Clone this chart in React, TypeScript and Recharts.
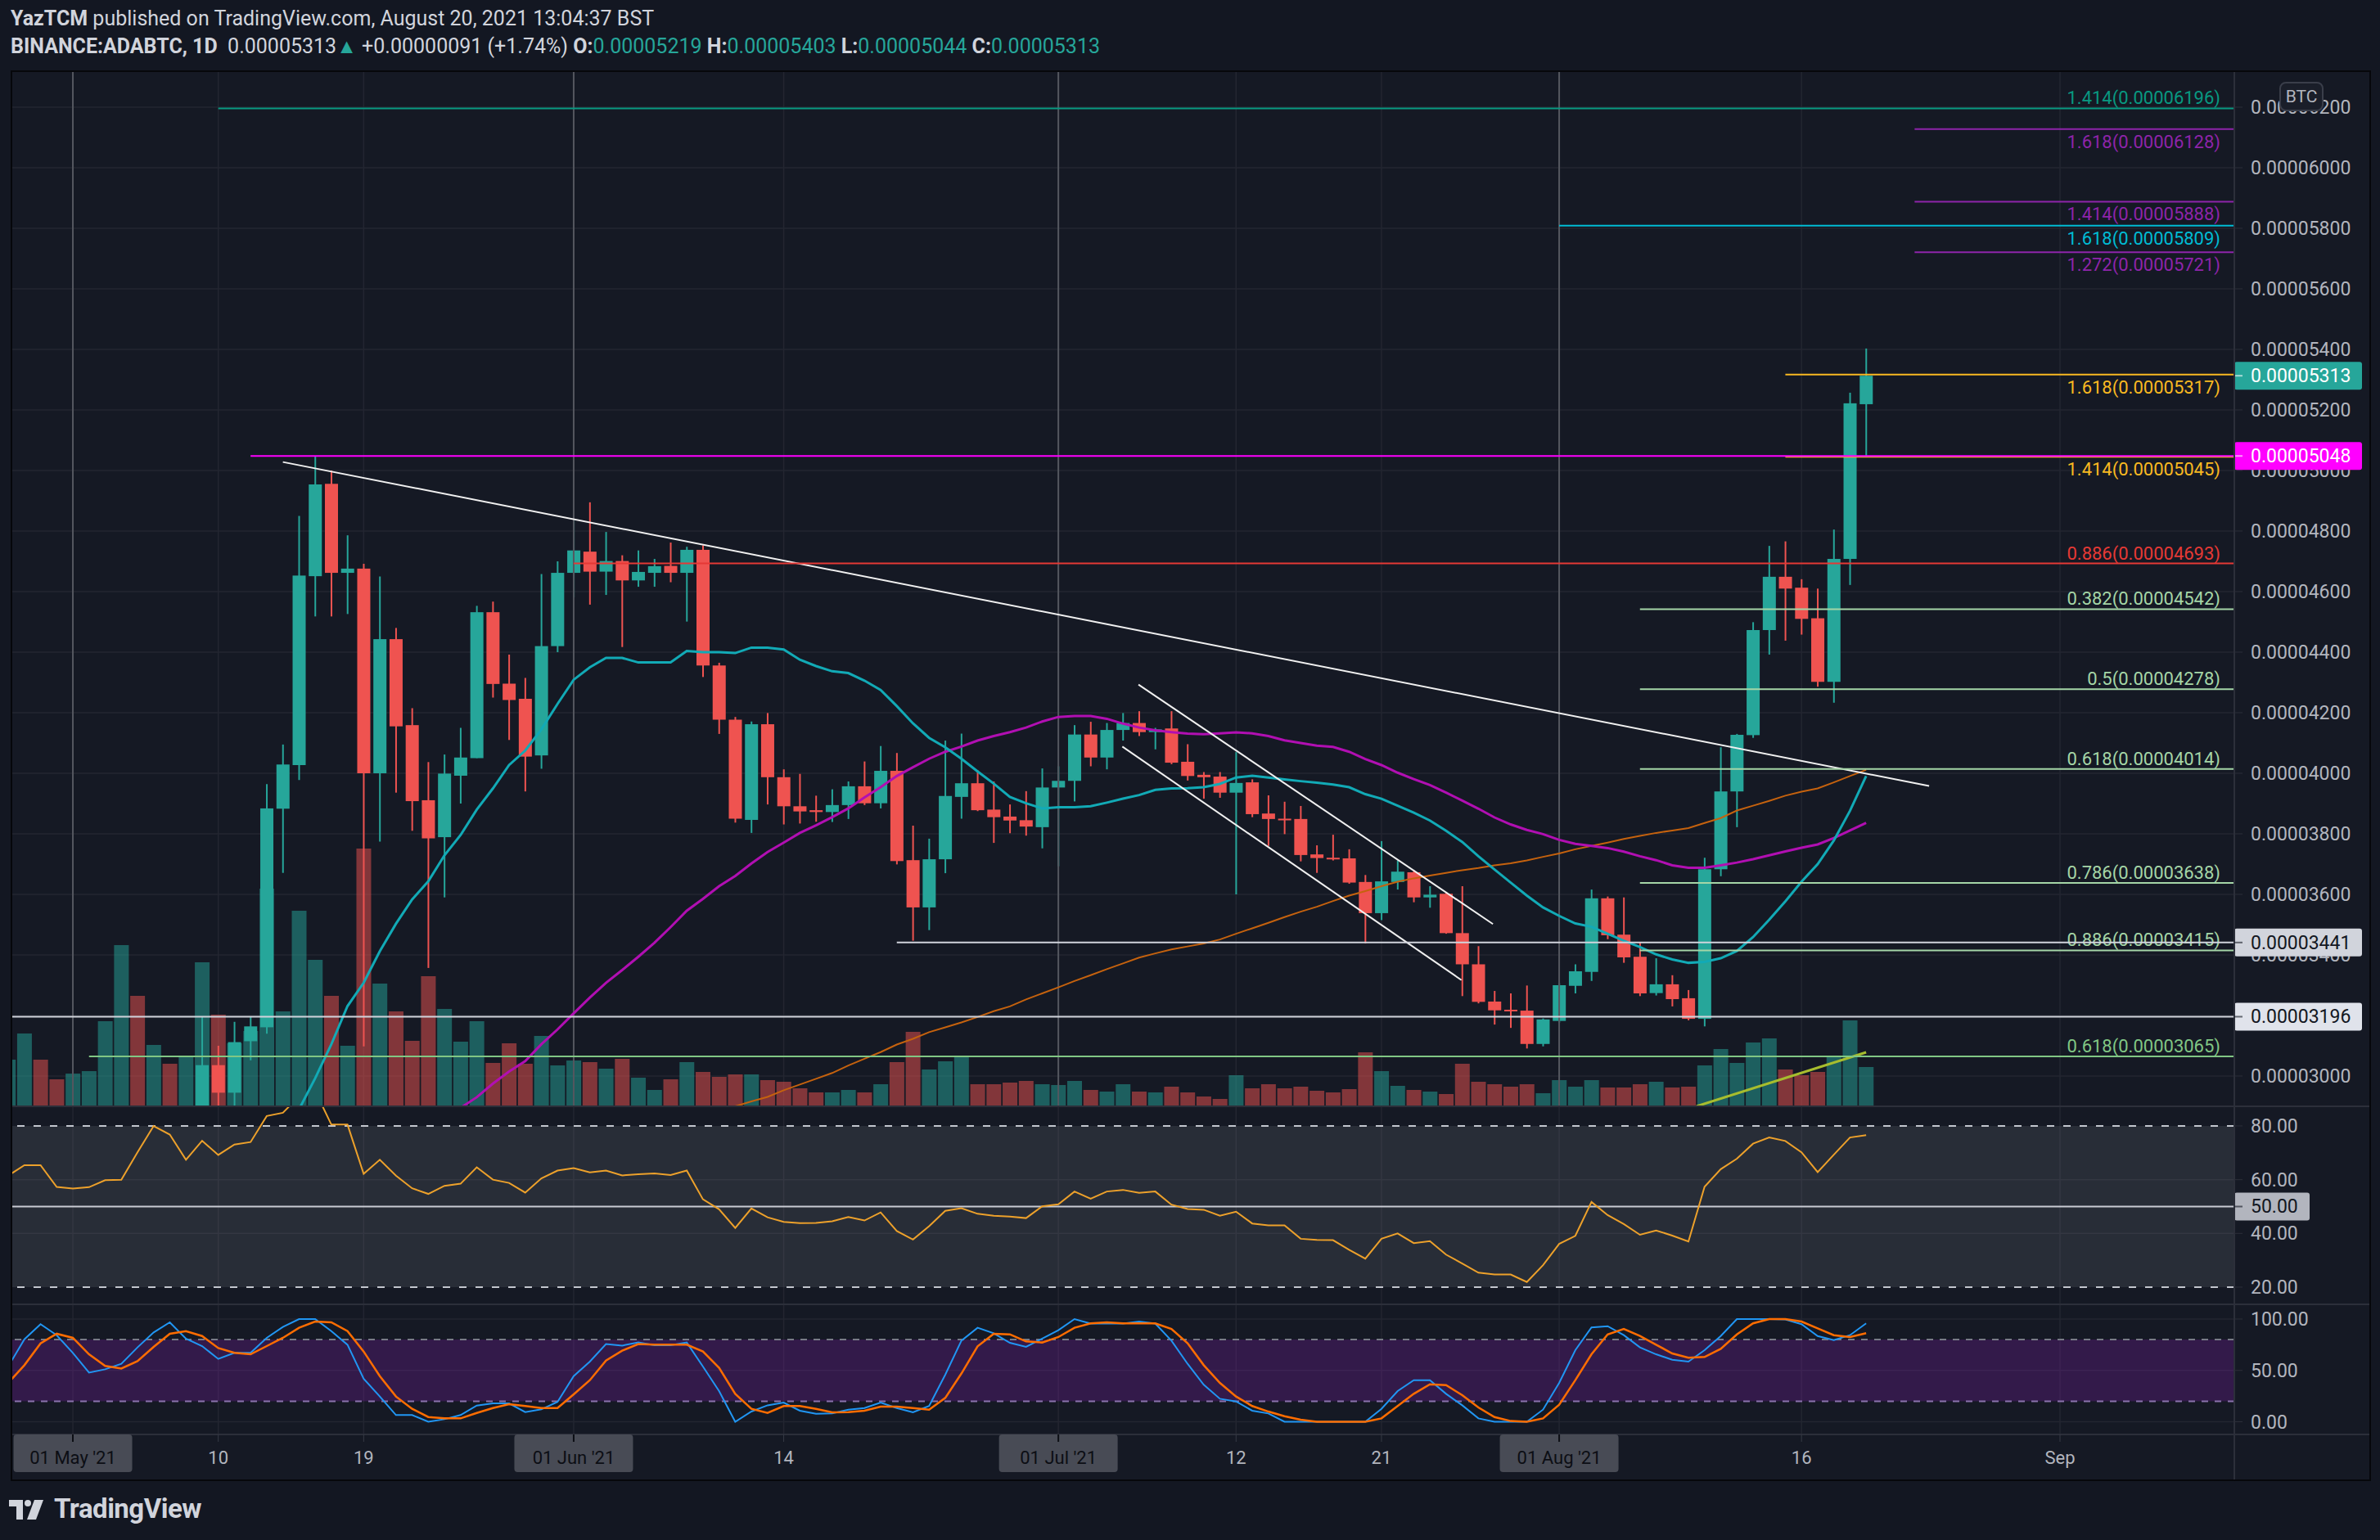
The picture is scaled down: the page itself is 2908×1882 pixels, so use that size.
import React from "react";
import {
  Bar,
  CartesianGrid,
  ComposedChart,
  Line,
  ReferenceArea,
  ReferenceLine,
  XAxis,
  YAxis,
} from "recharts";

const FONT = "Roboto, 'Liberation Sans', sans-serif";
const UP = "#26a69a";
const DOWN = "#ef5350";

// day 0 = 01 May 2021; the first bar is 27 Apr 2021 (day -4). Prices in satoshi.
const FIRST_DAY = -4;

const open = [
  2400, 2460, 2530, 2490, 2450, 2500, 2560, 2680, 2820, 2730, 2790, 2750,
  2840, 3036, 2945, 3115, 3161, 3883, 4027, 4651, 4956, 4662, 4676, 4000,
  4443, 4159, 3911, 3789, 3992, 4050, 4532, 4296, 4246, 4059, 4420, 4662,
  4732, 4666, 4701, 4637, 4662, 4685, 4662, 4738, 4356, 4177, 3846, 4162,
  3987, 3891, 3878, 3872, 3895, 3957, 3901, 4008, 3713, 3557, 3716, 3922,
  3967, 3880, 3857, 3845, 3822, 3953, 3975, 4128, 4052, 4143, 4166, 4136,
  4148, 4038, 3995, 3989, 3936, 3970, 3867, 3850, 3849, 3732, 3721, 3719,
  3641, 3538, 3641, 3673, 3590, 3602, 3472, 3369, 3246, 3219, 3216, 3106,
  3182, 3298, 3344, 3587, 3467, 3394, 3274, 3303, 3257, 3189, 3683, 3940,
  4126, 4473, 4649, 4613, 4512, 4302, 4708, 5219,
];
const high = [
  2480, 2560, 2570, 2520, 2530, 2590, 2700, 2870, 2860, 2820, 2830, 2880,
  3197, 3100, 3179, 3196, 3964, 4095, 4850, 5046, 5000, 4786, 4692, 4650,
  4480, 4215, 4037, 4062, 4150, 4553, 4567, 4392, 4315, 4658, 4700, 4836,
  4895, 4797, 4720, 4736, 4708, 4762, 4748, 4753, 4365, 4186, 4171, 4199,
  4013, 3998, 3926, 3947, 3973, 4039, 4090, 4067, 3827, 3784, 4108, 4131,
  4010, 3973, 3897, 3941, 4016, 4023, 4159, 4170, 4166, 4199, 4205, 4150,
  4205, 4096, 4004, 4004, 4070, 3980, 3927, 3906, 3892, 3762, 3797, 3749,
  3664, 3776, 3712, 3680, 3627, 3606, 3627, 3429, 3281, 3273, 3299, 3190,
  3307, 3369, 3616, 3593, 3590, 3441, 3389, 3333, 3284, 3721, 4086, 4130,
  4499, 4751, 4766, 4641, 4610, 4805, 5257, 5403,
];
const low = [
  2380, 2440, 2460, 2420, 2430, 2480, 2540, 2650, 2700, 2700, 2720, 2730,
  2810, 2890, 2890, 3052, 3140, 3671, 3978, 4518, 4518, 4526, 3098, 3774,
  3936, 3810, 3357, 3590, 3900, 4050, 4250, 4110, 3940, 4015, 4400, 4581,
  4557, 4589, 4417, 4616, 4616, 4631, 4501, 4318, 4130, 3837, 3803, 3897,
  3831, 3834, 3840, 3839, 3849, 3895, 3884, 3699, 3447, 3482, 3670, 3850,
  3875, 3770, 3802, 3794, 3752, 3693, 3907, 4023, 4013, 4108, 4123, 4079,
  4030, 3976, 3916, 3919, 3600, 3855, 3760, 3799, 3709, 3671, 3712, 3635,
  3438, 3515, 3616, 3574, 3556, 3470, 3264, 3240, 3170, 3159, 3091, 3098,
  3176, 3273, 3314, 3452, 3374, 3264, 3266, 3230, 3184, 3164, 3660, 3822,
  4117, 4392, 4438, 4458, 4286, 4233, 4622, 5044,
];
const close = [
  2460, 2530, 2490, 2450, 2500, 2560, 2680, 2820, 2730, 2790, 2750, 2840,
  3036, 2945, 3112, 3164, 3884, 4029, 4653, 4954, 4662, 4676, 4000, 4443,
  4155, 3908, 3785, 3999, 4052, 4532, 4295, 4242, 4055, 4420, 4662, 4736,
  4666, 4701, 4637, 4665, 4684, 4662, 4738, 4356, 4177, 3850, 4162, 3987,
  3891, 3874, 3872, 3895, 3957, 3901, 4008, 3710, 3557, 3716, 3925, 3967,
  3878, 3855, 3844, 3824, 3953, 3975, 4128, 4052, 4143, 4166, 4136, 4145,
  4035, 3991, 3987, 3936, 3968, 3865, 3849, 3847, 3730, 3720, 3717, 3639,
  3538, 3643, 3675, 3590, 3599, 3472, 3369, 3245, 3217, 3214, 3106, 3187,
  3300, 3346, 3587, 3465, 3392, 3273, 3303, 3254, 3189, 3683, 3940, 4127,
  4473, 4649, 4610, 4510, 4302, 4708, 5222, 5313,
];
const volume = [
  57, 89, 57, 33, 40, 43, 104, 197, 135, 75, 52, 60,
  176, 112, 77, 92, 266, 116, 239, 179, 135, 74, 315, 150,
  116, 80, 159, 119, 79, 104, 53, 77, 52, 86, 50, 56,
  54, 46, 58, 35, 20, 33, 54, 42, 36, 39, 39, 32,
  30, 22, 17, 17, 20, 17, 27, 54, 91, 45, 55, 60,
  27, 27, 29, 31, 27, 26, 31, 20, 18, 27, 18, 17,
  24, 17, 12, 9, 38, 22, 27, 22, 24, 19, 17, 21,
  66, 43, 25, 20, 18, 15, 52, 30, 27, 24, 27, 16,
  32, 24, 32, 23, 23, 27, 30, 23, 24, 50, 70, 53,
  78, 83, 45, 38, 42, 61, 105, 48,
];
const ema20 = [
  ...Array(14).fill(null),
  2630, 2680, 2740, 2810, 2890, 2993, 3105, 3231, 3308, 3412,
  3503, 3583, 3643, 3729, 3796, 3880, 3950, 4027, 4075, 4145, 4229, 4309,
  4350, 4381, 4381, 4366, 4366, 4366, 4404, 4400, 4400, 4397, 4415, 4415,
  4409, 4375, 4354, 4337, 4331, 4306, 4275, 4222, 4165, 4117, 4086, 4048,
  4006, 3966, 3922, 3901, 3884, 3888, 3888, 3891, 3903, 3916, 3928, 3945,
  3950, 3951, 3954, 3965, 3986, 3992, 3986, 3980, 3974, 3969, 3963, 3954,
  3931, 3916, 3893, 3870, 3844, 3810, 3773, 3726, 3682, 3639, 3596, 3557,
  3529, 3504, 3493, 3470, 3447, 3426, 3402, 3385, 3374, 3377, 3389, 3413,
  3459, 3516, 3577, 3642, 3700, 3778, 3876, 3991,
];
const ema50 = [
  ...Array(24).fill(null),
  2790, 2815, 2845, 2870, 2895, 2930, 2975, 3015, 3049, 3105, 3154, 3207,
  3259, 3308, 3350, 3394, 3440, 3492, 3546, 3585, 3627, 3661, 3702, 3740,
  3771, 3803, 3828, 3855, 3884, 3920, 3954, 3991, 4020, 4048, 4071, 4088,
  4108, 4123, 4136, 4151, 4171, 4186, 4189, 4189, 4180, 4164, 4151, 4142,
  4136, 4131, 4129, 4132, 4135, 4132, 4123, 4109, 4100, 4091, 4087, 4071,
  4047, 4027, 4002, 3981, 3961, 3936, 3910, 3883, 3854, 3831, 3813, 3799,
  3780, 3767, 3760, 3753, 3741, 3726, 3713, 3696, 3688, 3688, 3696, 3705,
  3716, 3729, 3742, 3754, 3765, 3786, 3811, 3836,
];
const ema200 = [
  ...Array(42).fill(null),
  2855, 2870, 2885, 2900, 2916, 2931,
  2953, 2972, 2991, 3010, 3035, 3057, 3079, 3104, 3123, 3145, 3161, 3177,
  3195, 3214, 3230, 3253, 3273, 3293, 3314, 3333, 3353, 3372, 3391, 3405,
  3418, 3428, 3438, 3451, 3470, 3488, 3506, 3525, 3543, 3559, 3578, 3596,
  3611, 3627, 3642, 3653, 3662, 3671, 3680, 3687, 3696, 3703, 3712, 3724,
  3735, 3749, 3760, 3771, 3783, 3793, 3803, 3811, 3819, 3836, 3852, 3877,
  3893, 3909, 3926, 3939, 3950, 3970, 3991, 4011,
];
const rsi = [
  61.5, 65.4, 65.4, 57.3, 56.7, 57.2, 59.8, 60.0, 70.2, 80.0, 76.8, 67.4,
  74.5, 69.2, 73.1, 74.0, 83.7, 84.9, 91.0, 93.0, 80.5, 80.5, 62.2, 67.4,
  61.5, 56.8, 54.7, 57.7, 58.5, 64.6, 60.0, 58.8, 55.2, 60.5, 63.4, 64.3,
  62.7, 63.4, 61.6, 62.0, 62.3, 61.7, 63.4, 52.7, 49.0, 42.0, 49.3, 46.0,
  44.3, 43.8, 43.9, 44.5, 46.1, 44.8, 47.8, 40.9, 37.7, 42.7, 48.4, 49.4,
  47.3, 46.6, 46.3, 45.7, 50.1, 50.8, 55.6, 52.9, 55.6, 56.2, 55.1, 55.6,
  50.7, 49.1, 48.8, 46.6, 48.1, 43.7, 43.0, 43.0, 38.0, 37.6, 37.5, 33.9,
  30.6, 38.0, 40.0, 36.4, 37.1, 32.1, 28.8, 25.4, 24.7, 24.7, 21.9, 28.2,
  36.1, 39.1, 51.7, 46.8, 43.5, 39.5, 41.1, 39.2, 37.0, 57.4, 63.9, 67.8,
  73.4, 75.7, 74.4, 70.2, 62.8, 69.3, 75.7, 76.6,
];
const stochK = [
  53.8, 80.3, 95.0, 84.3, 67.1, 47.9, 51.1, 56.4, 72.4, 87.0, 96.8, 80.9,
  73.7, 61.2, 67.1, 67.1, 81.7, 92.3, 100, 100, 88.3, 75.0, 41.8, 24.6,
  6.5, 6.5, 0, 2.5, 6.5, 15.8, 17.9, 17.9, 9.4, 12.1, 19.3, 44.5,
  58.6, 75.6, 74.2, 77.2, 74.5, 74.5, 77.2, 53.8, 29.9, 0, 10.0, 16.0,
  18.7, 10.8, 7.8, 8.1, 11.8, 13.4, 18.7, 13.4, 9.2, 15.3, 45.8, 79.0,
  91.5, 86.2, 76.9, 72.9, 80.9, 89.1, 100, 95.6, 95.6, 95.6, 97.6, 95.6,
  79.0, 56.4, 36.0, 22.4, 19.8, 10.8, 8.1, 0, 0, 0, 0, 0,
  0, 12.6, 29.9, 40.5, 40.5, 27.2, 16.0, 3.3, 0, 0, 0, 11.8,
  37.8, 69.7, 91.8, 93.1, 84.3, 72.4, 65.7, 60.4, 58.6, 69.7, 83.5, 100,
  100, 100, 99.5, 95.0, 83.5, 79.6, 84.3, 95.8,
];
const stochD = [
  37.8, 55.1, 76.3, 85.7, 81.7, 65.7, 54.3, 51.9, 59.1, 72.9, 85.7, 88.3,
  83.5, 71.8, 67.1, 65.7, 73.7, 81.7, 91.5, 97.6, 96.8, 88.3, 68.4, 44.5,
  24.6, 12.6, 4.6, 3.3, 3.3, 8.6, 13.4, 17.1, 15.3, 13.4, 13.4, 26.7,
  40.5, 59.6, 69.2, 75.6, 75.0, 75.0, 75.0, 68.4, 52.5, 27.2, 12.6, 8.6,
  15.3, 15.3, 12.6, 9.2, 9.4, 10.8, 14.7, 14.7, 13.4, 11.8, 23.2, 47.0,
  73.5, 85.7, 85.1, 78.2, 77.2, 82.5, 91.5, 95.8, 96.8, 95.8, 95.8, 95.8,
  90.4, 76.4, 55.1, 37.8, 24.6, 15.3, 9.9, 5.4, 2.0, 0, 0, 0,
  0, 3.3, 15.3, 27.2, 36.5, 35.7, 25.9, 13.9, 4.6, 0.7, 0, 3.3,
  16.6, 40.5, 65.7, 85.1, 90.4, 83.5, 75.0, 66.5, 62.3, 63.1, 71.0, 85.1,
  95.8, 100, 100, 97.6, 91.0, 84.3, 82.5, 86.2,
];

const rows = open.map((o, i) => ({
  day: i + FIRST_DAY,
  open: o,
  high: high[i],
  low: low[i],
  close: close[i],
  range: [low[i], high[i]],
  volume: volume[i],
  ema20: ema20[i],
  ema50: ema50[i],
  ema200: ema200[i],
  rsi: rsi[i],
  k: stochK[i],
  d: stochD[i],
}));

// axes
const X_DOMAIN: [number, number] = [-3.75, 133.79];
const X_END = 133.79;
const PRICE_DOMAIN: [number, number] = [2900, 6316.2];
const tickDays = [0, 9, 18, 31, 44, 61, 72, 81, 92, 107, 123];
const tickLabels = ["01 May '21", "10", "19", "01 Jun '21", "14", "01 Jul '21", "12", "21", "01 Aug '21", "16", "Sep"];
const monthStarts = [0, 31, 61, 92];
const priceTicks = [3000, 3200, 3400, 3600, 3800, 4000, 4200, 4400, 4600, 4800, 5000, 5200, 5400, 5600, 5800, 6000, 6200];
const rsiTicks = [20, 40, 60, 80];
const stochTicks = [0, 50, 100];

// fibonacci levels (ratio, price, first day of the drawn line)
const fibRatio = ["1.414", "1.618", "1.414", "1.618", "1.272", "1.618", "1.414", "0.886", "0.382", "0.5", "0.618", "0.786", "0.886", "0.618"];
const fibPrice = [6196, 6128, 5888, 5809, 5721, 5317, 5045, 4693, 4542, 4278, 4014, 3638, 3415, 3065];
const fibStart = [9, 114, 114, 92, 114, 106, 106, 31, 97, 97, 97, 97, 97, 1];
const fibColor = ["#089981", "#8e24aa", "#8e24aa", "#00bcd4", "#8e24aa", "#f9b921", "#f9b921", "#e53935", "#a5d6a7", "#a5d6a7", "#a5d6a7", "#a5d6a7", "#a5d6a7", "#81c784"];
const fibBelow = [false, true, true, true, true, true, true, false, false, false, false, false, false, false];

// drawn trendlines: [day1, price1, day2, price2]
const trendlines = [
  [13, 5028, 114.9, 3958],
  [65.96, 4293, 87.9, 3502],
  [64.96, 4088, 85.95, 3317],
];

// horizontal levels with a price tag on the axis: price, first day
const levelPrice = [5048, 3441, 3196];
const levelStart = [11, 51, X_DOMAIN[0]];
const levelColor = ["#ff00ff", "#d1d4dc", "#d1d4dc"];
const levelTagBg = ["#ff00ff", "#d1d4dc", "#e0e3eb"];
const levelTagFg = ["#ffffff", "#131722", "#131722"];
const lastClose = close[close.length - 1];

const fmtPrice = (v: number) => (v / 1e8).toFixed(8);
const fmt2 = (v: number) => v.toFixed(2);

type VB = { x: number; y: number; width: number; height: number };

function fibLabel(text: string, color: string, below: boolean) {
  return ({ viewBox }: { viewBox?: VB }) => {
    if (!viewBox) return null;
    return (
      <text
        x={viewBox.x + viewBox.width - 17}
        y={viewBox.y + (below ? 23 : -5)}
        textAnchor="end"
        fill={color}
        fontSize={22}
        fontFamily={FONT}
      >
        {text}
      </text>
    );
  };
}

function priceBox(text: string, bg: string, fg: string, w = 156) {
  return ({ viewBox }: { viewBox?: VB }) => {
    if (!viewBox) return null;
    const x = viewBox.x + viewBox.width;
    const y = viewBox.y;
    return (
      <g>
        <rect x={x} y={y - 17} width={w} height={34} rx={3} fill={bg} />
        <line x1={x} x2={x + 10} y1={y} y2={y} stroke={fg} strokeOpacity={0.6} strokeWidth={2} />
        <text x={x + 20} y={y + 8} fill={fg} fontSize={23} fontFamily={FONT}>
          {text}
        </text>
      </g>
    );
  };
}

function Candle(p: any) {
  const { x, y, width, height, payload } = p;
  if (!payload || !isFinite(y) || !isFinite(height)) return null;
  const top = Math.min(y, y + height);
  const full = Math.abs(height);
  const k = payload.high === payload.low ? 0 : full / (payload.high - payload.low);
  const cx = x + width / 2;
  const bTop = top + (payload.high - Math.max(payload.open, payload.close)) * k;
  const bBot = top + (payload.high - Math.min(payload.open, payload.close)) * k;
  const c = payload.close >= payload.open ? UP : DOWN;
  return (
    <g>
      <line x1={cx} x2={cx} y1={top} y2={top + full} stroke={c} strokeWidth={2} />
      <rect x={cx - 8} y={bTop} width={16} height={Math.max(bBot - bTop, 2)} fill={c} />
    </g>
  );
}

function VolumeBar(p: any) {
  const { x, y, width, height, payload } = p;
  if (!payload || !isFinite(y) || !isFinite(height)) return null;
  const c = payload.close >= payload.open ? UP : DOWN;
  return <rect x={x + width / 2 - 9} y={Math.min(y, y + height)} width={18} height={Math.abs(height)} fill={c} fillOpacity={0.5} />;
}

function TimeTick({ x, y, payload }: any) {
  const i = tickDays.indexOf(payload.value);
  const label = tickLabels[i] ?? "";
  if (monthStarts.includes(payload.value)) {
    const w = label.length * 11.5 + 30;
    return (
      <g>
        <rect x={x - w / 2} y={y - 9} width={w} height={46} rx={4} fill="#484b55" />
        <line x1={x} x2={x} y1={y - 9} y2={y} stroke="#0c0e14" strokeWidth={2} />
        <text x={x} y={y + 27} textAnchor="middle" fill="#0c0e14" fontSize={22} fontFamily={FONT}>
          {label}
        </text>
      </g>
    );
  }
  return (
    <text x={x} y={y + 27} textAnchor="middle" fill="#b2b5be" fontSize={22} fontFamily={FONT}>
      {label}
    </text>
  );
}

const axisTick = { fill: "#b2b5be", fontSize: 23, fontFamily: FONT };
const SEP = "#2c2f3a";
const MARGIN = { top: 0, right: 0, bottom: 0, left: 15 };

function MainPanel() {
  return (
    <ComposedChart width={2908} height={1264} data={rows} margin={MARGIN}>
      <CartesianGrid stroke="#232631" strokeWidth={1.5} horizontalValues={priceTicks} verticalValues={tickDays} />
      <XAxis dataKey="day" type="number" domain={X_DOMAIN} allowDataOverflow hide ticks={tickDays} />
      <XAxis xAxisId="v" dataKey="day" type="number" domain={X_DOMAIN} allowDataOverflow hide />
      <YAxis
        orientation="right"
        width={178}
        type="number"
        domain={PRICE_DOMAIN}
        allowDataOverflow
        ticks={priceTicks}
        interval={0}
        tickFormatter={fmtPrice}
        tick={axisTick}
        tickSize={10}
        tickMargin={10}
        tickLine={{ stroke: SEP }}
        axisLine={{ stroke: SEP, strokeWidth: 2 }}
      />
      <YAxis yAxisId="v" hide domain={[0, 1264]} allowDataOverflow />
      {monthStarts.map((m) => (
        <ReferenceLine key={"m" + m} x={m} stroke="#54575f" strokeWidth={2} ifOverflow="visible" />
      ))}
      <Bar xAxisId="v" yAxisId="v" dataKey="volume" barSize={18} shape={VolumeBar} isAnimationActive={false} />
      <ReferenceLine
        xAxisId="v"
        yAxisId="v"
        segment={[{ x: 100.5, y: 0 }, { x: 111, y: 66 }]}
        stroke="#a7bd2e"
        strokeWidth={3}
        ifOverflow="visible"
      />
      <Line dataKey="ema200" stroke="#c5620e" strokeWidth={2} dot={false} isAnimationActive={false} />
      <Line dataKey="ema50" stroke="#b10fb2" strokeWidth={3} dot={false} isAnimationActive={false} />
      <Line dataKey="ema20" stroke="#12aab6" strokeWidth={3} dot={false} isAnimationActive={false} />
      <Bar dataKey="range" barSize={16} shape={Candle} isAnimationActive={false} />
      {trendlines.map((t, i) => (
        <ReferenceLine
          key={"t" + i}
          segment={[{ x: t[0], y: t[1] }, { x: t[2], y: t[3] }]}
          stroke="#f0f0f0"
          strokeWidth={2}
          ifOverflow="visible"
        />
      ))}
      {fibPrice.map((p, i) => (
        <ReferenceLine
          key={"f" + i}
          segment={[{ x: fibStart[i], y: p }, { x: X_END, y: p }]}
          stroke={fibColor[i]}
          strokeWidth={2}
          ifOverflow="visible"
          label={fibLabel(`${fibRatio[i]}(${fmtPrice(p)})`, fibColor[i], fibBelow[i])}
        />
      ))}
      {levelPrice.map((p, i) => (
        <ReferenceLine
          key={"l" + i}
          segment={[{ x: levelStart[i], y: p }, { x: X_END, y: p }]}
          stroke={levelColor[i]}
          strokeWidth={2}
          ifOverflow="visible"
        />
      ))}
    </ComposedChart>
  );
}

// price tags drawn in a layer above the price axis labels
function PriceTags() {
  return (
    <ComposedChart width={2908} height={1264} data={rows} margin={MARGIN}>
      <XAxis dataKey="day" type="number" domain={X_DOMAIN} allowDataOverflow hide />
      <YAxis
        orientation="right"
        width={178}
        type="number"
        domain={PRICE_DOMAIN}
        allowDataOverflow
        tick={false}
        tickLine={false}
        axisLine={false}
      />
      {levelPrice.map((p, i) => (
        <ReferenceLine
          key={"tag" + i}
          y={p}
          stroke="none"
          ifOverflow="visible"
          label={priceBox(fmtPrice(p), levelTagBg[i], levelTagFg[i])}
        />
      ))}
      <ReferenceLine y={lastClose} stroke="none" ifOverflow="visible" label={priceBox(fmtPrice(lastClose), UP, "#ffffff")} />
    </ComposedChart>
  );
}

function RsiPanel() {
  return (
    <ComposedChart width={2908} height={242} data={rows} margin={MARGIN}>
      <XAxis dataKey="day" type="number" domain={X_DOMAIN} allowDataOverflow hide ticks={tickDays} />
      <YAxis
        orientation="right"
        width={178}
        type="number"
        domain={[13.6, 87.31]}
        allowDataOverflow
        ticks={rsiTicks}
        interval={0}
        tickFormatter={fmt2}
        tick={axisTick}
        tickSize={10}
        tickMargin={10}
        tickLine={{ stroke: SEP }}
        axisLine={{ stroke: SEP, strokeWidth: 2 }}
      />
      <CartesianGrid stroke="#232631" strokeWidth={1.5} horizontalValues={[40, 60]} verticalValues={tickDays} />
      <ReferenceArea y1={20} y2={80} fill="#787b86" fillOpacity={0.2} stroke="none" />
      <ReferenceLine y={80} stroke="#c3c6ce" strokeDasharray="9 11" strokeWidth={2} />
      <ReferenceLine y={20} stroke="#c3c6ce" strokeDasharray="9 11" strokeWidth={2} />
      <ReferenceLine y={50} stroke="#c9ccd4" strokeWidth={2} ifOverflow="visible" label={priceBox(fmt2(50), "#b2b5be", "#131722", 92)} />
      <Line dataKey="rsi" stroke="#eda12b" strokeWidth={2} dot={false} isAnimationActive={false} />
    </ComposedChart>
  );
}

function StochPanel() {
  return (
    <ComposedChart width={2908} height={214} data={rows} margin={MARGIN}>
      <XAxis
        dataKey="day"
        type="number"
        domain={X_DOMAIN}
        allowDataOverflow
        ticks={tickDays}
        interval={0}
        height={55}
        tick={<TimeTick />}
        tickSize={9}
        tickMargin={0}
        tickLine={{ stroke: "#363a45" }}
        axisLine={{ stroke: SEP, strokeWidth: 2 }}
      />
      <YAxis
        orientation="right"
        width={178}
        type="number"
        domain={[-12.35, 114.34]}
        allowDataOverflow
        ticks={stochTicks}
        interval={0}
        tickFormatter={fmt2}
        tick={axisTick}
        tickSize={10}
        tickMargin={10}
        tickLine={{ stroke: SEP }}
        axisLine={{ stroke: SEP, strokeWidth: 2 }}
      />
      <CartesianGrid stroke="#232631" strokeWidth={1.5} horizontalValues={stochTicks} verticalValues={tickDays} />
      <ReferenceArea y1={20} y2={80} fill="#7b1fa2" fillOpacity={0.3} stroke="none" />
      <ReferenceLine y={80} stroke="#787b86" strokeDasharray="8 8" strokeWidth={2} />
      <ReferenceLine y={20} stroke="#8a72ac" strokeDasharray="8 8" strokeWidth={2} />
      <Line dataKey="k" stroke="#2196f3" strokeWidth={2} dot={false} isAnimationActive={false} />
      <Line dataKey="d" stroke="#ff6d00" strokeWidth={2.5} dot={false} isAnimationActive={false} />
    </ComposedChart>
  );
}

export default function App() {
  const abs = (left: number, top: number): React.CSSProperties => ({ position: "absolute", left, top });
  return (
    <div
      style={{
        position: "absolute",
        left: 0,
        top: 0,
        width: 2908,
        height: 1882,
        background: "#131722",
        overflow: "hidden",
        fontFamily: FONT,
        color: "#d1d4dc",
      }}
    >
      <div style={{ ...abs(13, 8), fontSize: 25, whiteSpace: "nowrap", lineHeight: "30px" }}>
        <b>YazTCM</b> published on TradingView.com, August 20, 2021 13:04:37 BST
      </div>
      <div style={{ ...abs(13, 42), fontSize: 25, whiteSpace: "nowrap", lineHeight: "30px" }}>
        <b>BINANCE:ADABTC, 1D</b>&nbsp; 0.00005313<span style={{ color: UP }}>▲</span> +0.00000091 (+1.74%){" "}
        <b>O:</b>
        <span style={{ color: UP }}>0.00005219</span> <b>H:</b>
        <span style={{ color: UP }}>0.00005403</span> <b>L:</b>
        <span style={{ color: UP }}>0.00005044</span> <b>C:</b>
        <span style={{ color: UP }}>0.00005313</span>
      </div>

      <div
        style={{
          ...abs(13, 86),
          width: 2884,
          height: 1724,
          boxSizing: "border-box",
          border: "2px solid #06070b",
          background: "#151924",
        }}
      />
      <div style={abs(0, 88)}>
        <MainPanel />
      </div>
      <div style={abs(0, 88)}>
        <PriceTags />
      </div>
      <div style={abs(0, 1352)}>
        <RsiPanel />
      </div>
      <div style={abs(0, 1594)}>
        <StochPanel />
      </div>

      {/* panel separators */}
      <div style={{ ...abs(15, 1351), width: 2880, height: 2, background: SEP }} />
      <div style={{ ...abs(15, 1593), width: 2880, height: 2, background: SEP }} />
      <div style={{ ...abs(2730, 1752), width: 165, height: 2, background: SEP }} />
      <div style={{ ...abs(2729, 88), width: 2, height: 1720, background: SEP }} />

      <div
        style={{
          ...abs(2785, 100),
          width: 54,
          height: 36,
          boxSizing: "border-box",
          border: "2px solid #3a3e4a",
          borderRadius: 8,
          background: "#1a1e29",
          color: "#b2b5be",
          fontSize: 21,
          lineHeight: "32px",
          textAlign: "center",
        }}
      >
        BTC
      </div>

      <svg style={abs(11, 1833)} width={50} height={25} viewBox="0 0 50 25">
        <path d="M0 0 H17 V24 H9 V8 H0 Z" fill="#d1d4dc" />
        <circle cx={23} cy={4} r={4} fill="#d1d4dc" />
        <path d="M31 0 H42 L33 24 H22 Z" fill="#d1d4dc" />
      </svg>
      <div style={{ ...abs(66, 1824), fontSize: 33, fontWeight: 700, color: "#d1d4dc", letterSpacing: -0.5 }}>
        TradingView
      </div>
    </div>
  );
}
